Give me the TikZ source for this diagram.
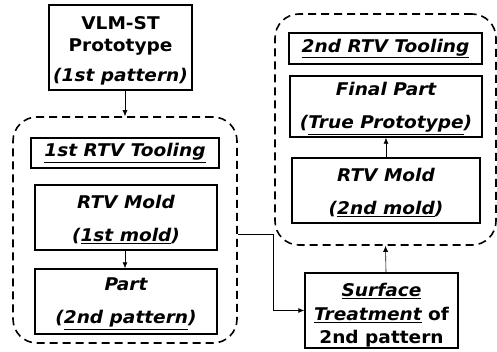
\documentclass[tikz,border=0pt]{standalone}
\usepackage{fontspec}
\setmainfont[FakeStretch=1.06]{DejaVu Sans}
\usetikzlibrary{arrows.meta}
\newcommand\mytop[1]{\rule{0pt}{#1}}
\begin{document}
\begin{tikzpicture}[x=1pt,y=-1pt,
  font=\bfseries\fontsize{17.5}{33}\selectfont,
  box/.style={draw, line width=1.5pt, inner sep=0pt, align=center},
  grp/.style={draw, line width=1.6pt, dash pattern=on 8pt off 5pt, rounded corners=24pt},
  arr/.style={-{Latex[length=6pt,width=5pt]}, line width=0.6pt}]
\useasboundingbox (0,0) rectangle (497,352);
% groups
\node[grp, minimum width=224pt, minimum height=226pt] (g1) at (125,230) {};
\node[grp, minimum width=221pt, minimum height=231pt] (g2) at (385.5,129.5) {};
% left column
\node[box, minimum width=143pt, minimum height=85pt] (vlm) at (120.5,47.5)
  {\mytop{19pt}VLM-ST\\[-11pt]Prototype\\[-3pt]\itshape (1st pattern)};
\node[box, minimum width=188pt, minimum height=30pt] (t1) at (125,153)
  {\itshape\underline{1st RTV Tooling}};
\node[box, minimum width=182pt, minimum height=65pt] (m1) at (126,217.5)
  {\mytop{17pt}\itshape RTV Mold\\\itshape (\underline{1st mold})};
\node[box, minimum width=182pt, minimum height=65pt] (p1) at (126,301.5)
  {\mytop{17pt}\itshape Part\\\itshape (\underline{2nd pattern})};
% right column
\node[box, minimum width=193pt, minimum height=31pt] (t2) at (385.5,48.5)
  {\itshape\underline{2nd RTV Tooling}};
\node[box, minimum width=192pt, minimum height=61pt] (fp) at (386,106.5)
  {\mytop{17pt}\itshape Final Part\\\itshape (\underline{True Prototype})};
\node[box, minimum width=188pt, minimum height=65pt] (m2) at (386,190.5)
  {\mytop{17pt}\itshape RTV Mold\\\itshape (\underline{2nd mold})};
\node[box, minimum width=153pt, minimum height=75pt, font=\bfseries\fontsize{17.5}{23.5}\selectfont] (st) at (381.5,310.5)
  {\mytop{23pt}\itshape\underline{Surface}\\\itshape\underline{Treatment} \upshape of\\2nd pattern};
% connectors
\draw[arr] (vlm.south -| g1.north) -- (g1.north);
\draw[arr] (m1.south -| 125,0) -- (p1.north -| 125,0);
\draw[arr] (m2.north) -- (fp.north |- fp.south);
\draw[arr] (st.north -| m2.south) -- (g2.south);
\draw[arr] ([yshift=-4pt]g1.east) -- ++(35,0) |- (st.west);
\end{tikzpicture}
\end{document}
